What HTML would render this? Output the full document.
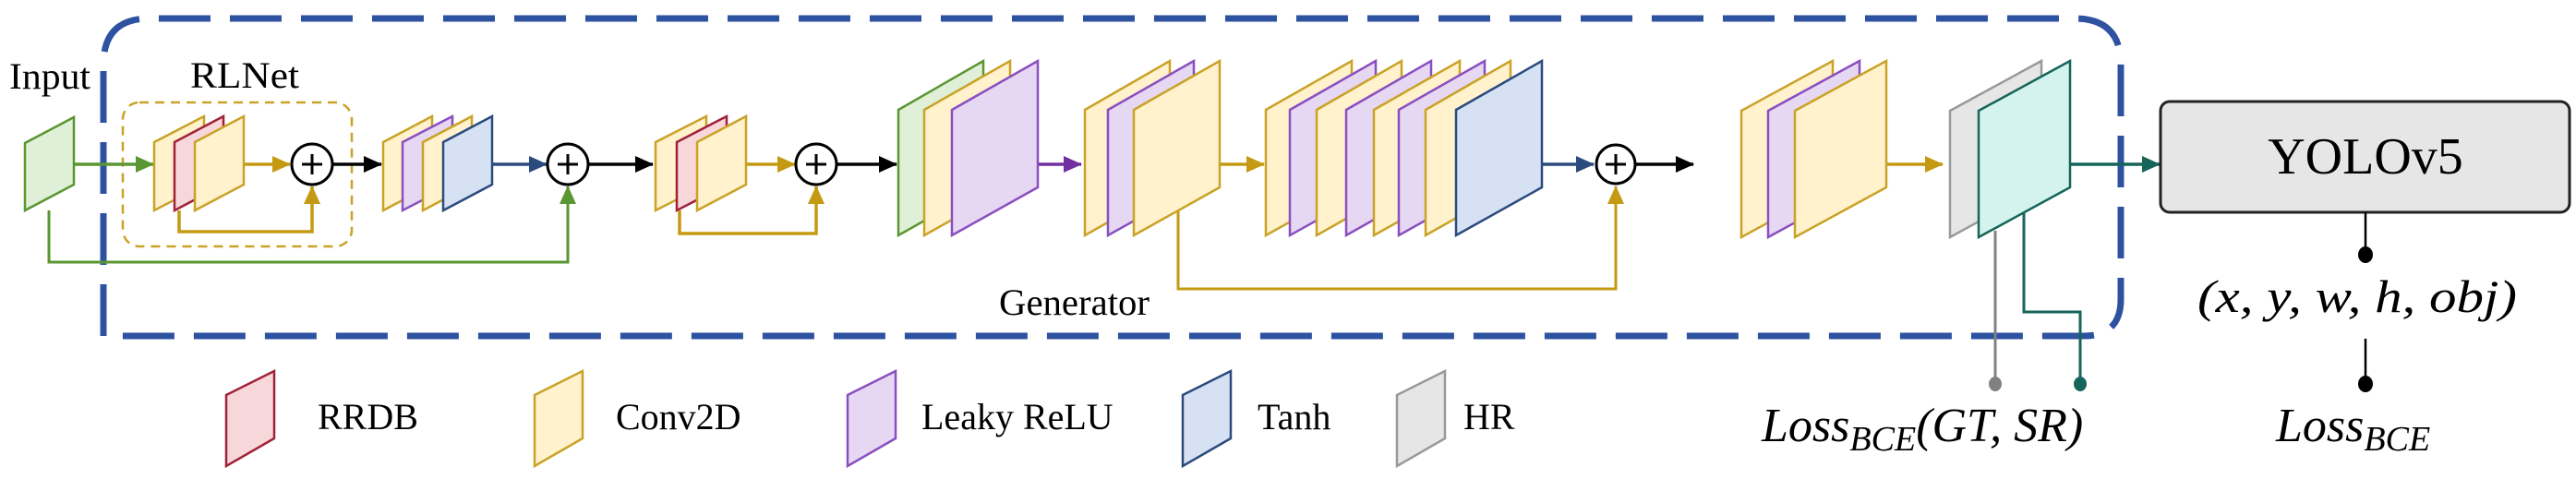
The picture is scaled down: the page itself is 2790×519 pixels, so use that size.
<!DOCTYPE html>
<html><head><meta charset="utf-8"><style>
html,body{margin:0;padding:0;background:#fff;}
svg{display:block;}
svg text{font-family:"Liberation Serif","DejaVu Serif",serif !important;fill:#000;}
</style></head><body>
<svg width="2790" height="519" viewBox="0 0 2790 519" xmlns="http://www.w3.org/2000/svg" font-family="Liberation Serif, serif">
<defs>
<marker id="aG" markerWidth="20" markerHeight="18" refX="19" refY="9" orient="auto" markerUnits="userSpaceOnUse" viewBox="0 0 20 18"><path d="M0,0 L20,9 L0,18z" fill="#5a9632"/></marker>
<marker id="aY" markerWidth="20" markerHeight="18" refX="19" refY="9" orient="auto" markerUnits="userSpaceOnUse" viewBox="0 0 20 18"><path d="M0,0 L20,9 L0,18z" fill="#c49a12"/></marker>
<marker id="aK" markerWidth="20" markerHeight="18" refX="19" refY="9" orient="auto" markerUnits="userSpaceOnUse" viewBox="0 0 20 18"><path d="M0,0 L20,9 L0,18z" fill="#000"/></marker>
<marker id="aN" markerWidth="20" markerHeight="18" refX="19" refY="9" orient="auto" markerUnits="userSpaceOnUse" viewBox="0 0 20 18"><path d="M0,0 L20,9 L0,18z" fill="#2b4a7e"/></marker>
<marker id="aP" markerWidth="20" markerHeight="18" refX="19" refY="9" orient="auto" markerUnits="userSpaceOnUse" viewBox="0 0 20 18"><path d="M0,0 L20,9 L0,18z" fill="#7030a0"/></marker>
<marker id="aT" markerWidth="20" markerHeight="18" refX="19" refY="9" orient="auto" markerUnits="userSpaceOnUse" viewBox="0 0 20 18"><path d="M0,0 L20,9 L0,18z" fill="#16655a"/></marker>
</defs>
<style>
.y{fill:#fff2cc;stroke:#c9a227;stroke-width:2.5}
.r{fill:#f8d7da;stroke:#a0213a;stroke-width:2.5}
.p{fill:#e6d8f2;stroke:#8a4fc0;stroke-width:2.5}
.g{fill:#e0f0d8;stroke:#5a9632;stroke-width:2.5}
.b{fill:#d6e2f4;stroke:#2b4a7e;stroke-width:2.5}
.h{fill:#e6e6e6;stroke:#999;stroke-width:2.5}
.t{fill:#d4f3ef;stroke:#16655a;stroke-width:2.5}
</style>

<path d="M112,364 L112,70 Q112,20 162,20 L2247,20 Q2297,20 2297,70 L2297,324 Q2297,364 2257,364 Z" fill="none" stroke="#2d52a0" stroke-width="7" stroke-dasharray="56,21"/>
<rect x="133" y="111" width="248" height="156" rx="18" fill="none" stroke="#c9a227" stroke-width="2.5" stroke-dasharray="10,7"/>

<text x="10" y="96" font-size="40" font-family="Liberation Serif, serif" textLength="88" lengthAdjust="spacingAndGlyphs">Input</text>
<text x="206" y="95" font-size="40" font-family="Liberation Serif, serif" textLength="118" lengthAdjust="spacingAndGlyphs">RLNet</text>
<text x="1082" y="341" font-size="40" font-family="Liberation Serif, serif" textLength="163" lengthAdjust="spacingAndGlyphs">Generator</text>

<path d="M53,228 L53,284 L615,284 L615,202" fill="none" stroke="#5a9632" stroke-width="3" marker-end="url(#aG)"/>
<line x1="80" y1="178" x2="166" y2="178" stroke="#5a9632" stroke-width="3.5" marker-end="url(#aG)"/>
<line x1="264" y1="178" x2="314" y2="178" stroke="#c49a12" stroke-width="3.5" marker-end="url(#aY)"/>
<path d="M194,228 L194,251 L338,251 L338,202" fill="none" stroke="#c49a12" stroke-width="3.5" marker-end="url(#aY)"/>
<line x1="361" y1="178" x2="413" y2="178" stroke="#000" stroke-width="3.5" marker-end="url(#aK)"/>
<line x1="533" y1="178" x2="592" y2="178" stroke="#2b4a7e" stroke-width="3.5" marker-end="url(#aN)"/>
<line x1="637" y1="178" x2="707" y2="178" stroke="#000" stroke-width="3.5" marker-end="url(#aK)"/>
<line x1="808" y1="178" x2="861" y2="178" stroke="#c49a12" stroke-width="3.5" marker-end="url(#aY)"/>
<path d="M736,228 L736,253 L884,253 L884,202" fill="none" stroke="#c49a12" stroke-width="3.5" marker-end="url(#aY)"/>
<line x1="906" y1="178" x2="971" y2="178" stroke="#000" stroke-width="3.5" marker-end="url(#aK)"/>
<line x1="1124" y1="178" x2="1171" y2="178" stroke="#7030a0" stroke-width="3.5" marker-end="url(#aP)"/>
<line x1="1321" y1="178" x2="1369" y2="178" stroke="#c49a12" stroke-width="3.5" marker-end="url(#aY)"/>
<path d="M1276,229 L1276,313 L1750,313 L1750,202" fill="none" stroke="#c49a12" stroke-width="3" marker-end="url(#aY)"/>
<line x1="1670" y1="178" x2="1726" y2="178" stroke="#2b4a7e" stroke-width="3.5" marker-end="url(#aN)"/>
<line x1="1772" y1="178" x2="1834" y2="178" stroke="#000" stroke-width="3.5" marker-end="url(#aK)"/>
<line x1="2043" y1="178" x2="2104" y2="178" stroke="#c49a12" stroke-width="3.5" marker-end="url(#aY)"/>
<line x1="2242" y1="178" x2="2339" y2="178" stroke="#16655a" stroke-width="3.5" marker-end="url(#aT)"/>

<polygon class="g" points="27,155 80,127 80,200 27,228"/>
<polygon class="y" points="167,154 221,126 221,200 167,228"/>
<polygon class="r" points="189,154 242,126 242,200 189,228"/>
<polygon class="y" points="211,154 264,126 264,200 211,228"/>
<polygon class="y" points="415,154 468,126 468,200 415,228"/>
<polygon class="p" points="436,154 490,126 490,200 436,228"/>
<polygon class="y" points="458,154 511,126 511,200 458,228"/>
<polygon class="b" points="480,154 533,126 533,200 480,228"/>
<polygon class="y" points="710,154 765,126 765,200 710,228"/>
<polygon class="r" points="733,154 787,126 787,200 733,228"/>
<polygon class="y" points="755,154 808,126 808,200 755,228"/>

<polygon class="g" points="973,119 1065,66 1065,203 973,255"/>
<polygon class="y" points="1001,119 1094,66 1094,203 1001,255"/>
<polygon class="p" points="1031,119 1124,66 1124,203 1031,255"/>

<polygon class="y" points="1175,119 1267,66 1267,203 1175,255"/>
<polygon class="p" points="1200,119 1293,66 1293,203 1200,255"/>
<polygon class="y" points="1228,119 1321,66 1321,203 1228,255"/>

<polygon class="y" points="1371,119 1464,66 1464,203 1371,255"/>
<polygon class="p" points="1397,119 1490,66 1490,203 1397,255"/>
<polygon class="y" points="1426,119 1518,66 1518,203 1426,255"/>
<polygon class="p" points="1458,119 1550,66 1550,203 1458,255"/>
<polygon class="y" points="1488,119 1581,66 1581,203 1488,255"/>
<polygon class="p" points="1515,119 1608,66 1608,203 1515,255"/>
<polygon class="y" points="1544,119 1636,66 1636,203 1544,255"/>
<polygon class="b" points="1577,119 1670,66 1670,203 1577,255"/>

<polygon class="y" points="1886,120 1985,66 1985,203 1886,257"/>
<polygon class="p" points="1915,120 2014,66 2014,203 1915,257"/>
<polygon class="y" points="1944,120 2043,66 2043,203 1944,257"/>

<line x1="2161" y1="250" x2="2161" y2="414" stroke="#808080" stroke-width="3"/>
<ellipse cx="2161" cy="416" rx="7" ry="8" fill="#808080"/>
<polygon class="h" points="2112,120 2211,66 2211,203 2112,257"/>
<polygon class="t" points="2143,120 2242,66 2242,203 2143,257"/>
<path d="M2192,230 L2192,338 L2253,338 L2253,414" fill="none" stroke="#16655a" stroke-width="3"/>
<ellipse cx="2253" cy="416" rx="7" ry="8" fill="#16655a"/>

<g fill="#fff" stroke="#000" stroke-width="3">
<circle cx="338" cy="178" r="22"/>
<circle cx="615" cy="178" r="22"/>
<circle cx="884" cy="178" r="22"/>
<circle cx="1750" cy="178" r="21"/>
</g>
<g stroke="#000" stroke-width="3">
<path d="M327,178 H349 M338,167 V189"/>
<path d="M604,178 H626 M615,167 V189"/>
<path d="M873,178 H895 M884,167 V189"/>
<path d="M1739,178 H1761 M1750,167 V189"/>
</g>

<rect x="2340" y="110" width="443" height="120" rx="10" fill="#e6e6e6" stroke="#222" stroke-width="3"/>
<text x="2562" y="188" font-size="56" text-anchor="middle" font-family="Liberation Serif, serif">YOLOv5</text>
<line x1="2562" y1="230" x2="2562" y2="274" stroke="#000" stroke-width="2.5"/>
<ellipse cx="2562" cy="276" rx="8" ry="9" fill="#000"/>
<text x="2380" y="338" font-size="50" font-style="italic" font-family="Liberation Serif, serif" textLength="346" lengthAdjust="spacingAndGlyphs">(x, y, w, h, obj)</text>
<line x1="2562" y1="367" x2="2562" y2="414" stroke="#000" stroke-width="2.5"/>
<ellipse cx="2562" cy="416" rx="8" ry="9" fill="#000"/>
<text x="2465" y="478" font-size="52" font-style="italic" font-family="Liberation Serif, serif">Loss<tspan font-size="38" dy="10">BCE</tspan></text>
<text x="1908" y="478" font-size="52" font-style="italic" font-family="Liberation Serif, serif">Loss<tspan font-size="38" dy="10">BCE</tspan><tspan dy="-10">(GT, SR)</tspan></text>

<polygon class="r" points="245,428 297,402 297,475 245,505"/>
<text x="344" y="465" font-size="40" font-family="Liberation Serif, serif">RRDB</text>
<polygon class="y" points="579,428 631,402 631,475 579,505"/>
<text x="667" y="465" font-size="40" font-family="Liberation Serif, serif">Conv2D</text>
<polygon class="p" points="918,428 970,402 970,475 918,505"/>
<text x="998" y="465" font-size="40" font-family="Liberation Serif, serif">Leaky ReLU</text>
<polygon class="b" points="1281,428 1333,402 1333,475 1281,505"/>
<text x="1362" y="465" font-size="40" font-family="Liberation Serif, serif">Tanh</text>
<polygon class="h" points="1513,428 1565,402 1565,475 1513,505"/>
<text x="1585" y="465" font-size="40" font-family="Liberation Serif, serif">HR</text>
</svg>
</body></html>
